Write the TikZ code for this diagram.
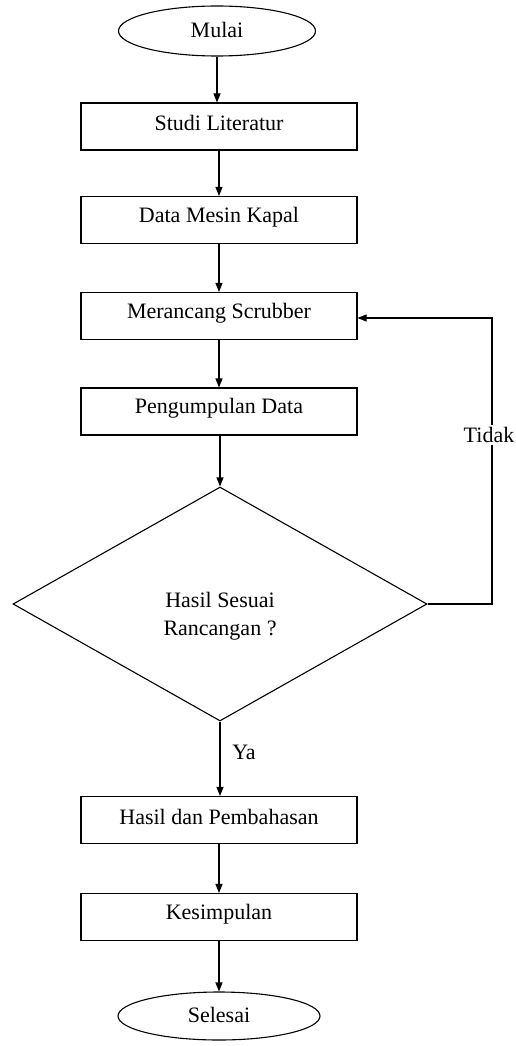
\documentclass[tikz,border=0pt]{standalone}
\usepackage{fontspec}
\setmainfont{Liberation Serif}
\usetikzlibrary{shapes.geometric,arrows.meta}
\begin{document}
\begin{tikzpicture}[x=1pt,y=1pt,
  every node/.style={font=\fontsize{22}{28}\selectfont},
  box/.style={draw,line width=1.1pt,minimum width=276pt,minimum height=47pt,inner sep=0pt},
  term/.style={draw,ellipse,line width=1.1pt,inner sep=0pt},
  dec/.style={draw,diamond,line width=1.1pt,minimum width=414pt,minimum height=234pt,inner sep=0pt},
  arr/.style={line width=1.1pt,-{Triangle[length=9pt,width=7pt]}},
  lbl/.style={fill=white,inner sep=2pt}]
\useasboundingbox (0,0) rectangle (516,-1046);
\node[term,minimum width=197pt,minimum height=50pt] (mulai) at (217,-31) {};
\node (tmulai) at (217,-30) {Mulai};
\node[box] (studi) at (219,-126.5) {};
\node (tstudi) at (219,-123) {Studi Literatur};
\node[box] (data) at (219,-220) {};
\node (tdata) at (219,-217) {Data Mesin Kapal};
\node[box] (rancang) at (219,-316) {};
\node (trancang) at (219,-313) {Merancang Scrubber};
\node[box] (kumpul) at (219,-411.5) {};
\node (tkumpul) at (219,-408.5) {Pengumpulan Data};
\node[dec] (dia) at (220,-604) {};
\node[align=center] (tdia) at (220,-616) {Hasil Sesuai\\Rancangan ?};
\node[box] (hasil) at (219,-820) {};
\node (thasil) at (219,-817) {Hasil dan Pembahasan};
\node[box] (simpul) at (219,-917) {};
\node (tsimpul) at (219,-914) {Kesimpulan};
\node[term,minimum width=202pt,minimum height=48pt] (selesai) at (219,-1016) {};
\node (tselesai) at (219,-1015) {Selesai};
\coordinate (c1) at (492,-604);
\coordinate (c2) at (492,-318);
\draw[arr] (mulai.south) -- (mulai.south |- studi.north);
\draw[arr] (studi) -- (data);
\draw[arr] (data) -- (rancang);
\draw[arr] (rancang) -- (rancang.south |- kumpul.north);
\draw[arr] (kumpul.south -| dia.north) -- (dia.north);
\draw[arr] (dia.south) -- (dia.south |- hasil.north);
\draw[arr] (hasil) -- (simpul);
\draw[arr] (simpul) -- (simpul.south |- selesai.north);
\draw[arr] (dia.east) -- (c1) -- (c2) -- (rancang.east |- c2);
\node[lbl] (tidak) at (489,-435) {Tidak};
\node (ya) at (244,-752) {Ya};
\end{tikzpicture}
\end{document}
